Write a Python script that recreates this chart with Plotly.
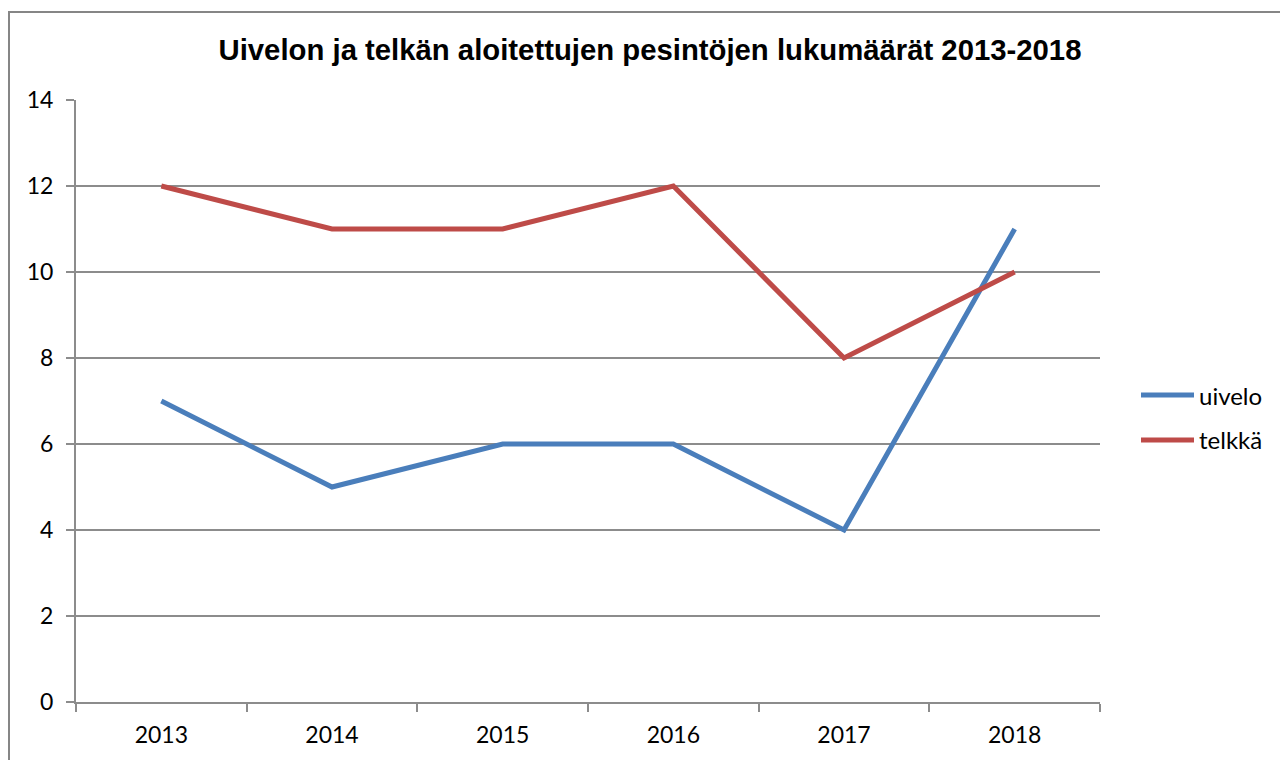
import plotly.graph_objects as go

years = ["2013", "2014", "2015", "2016", "2017", "2018"]
uivelo = [7, 5, 6, 6, 4, 11]
telkka = [12, 11, 11, 12, 8, 10]
series_names = ["uivelo", "telkkä"]
title_text = "Uivelon ja telkän aloitettujen pesintöjen lukumäärät 2013-2018"

BLUE = "#4A7EBB"
RED = "#BE4B48"
GRID = "#8C8C8C"
TXT = "Lato"

# page has an 8px body margin; work in screen pixels and convert
OFF = 8
W, H = 1280, 752
L, R, T, B = 76 - OFF, 1100 - OFF, 100 - OFF, 702 - OFF
pw, ph = R - L, B - T


def px_x(x):
    return (x - OFF - L) / pw


def px_y(y):
    return (B - (y - OFF)) / ph


fig = go.Figure()
colors = [BLUE, RED]
for name, vals, col in zip(series_names, [uivelo, telkka], colors):
    fig.add_trace(go.Scatter(x=years, y=vals, mode="lines", name=name,
                             line=dict(color=col, width=5), showlegend=False))

# outer chart border (extends past the right/bottom edges)
fig.add_shape(type="rect", xref="paper", yref="paper",
              x0=px_x(9), x1=px_x(1320), y0=px_y(12), y1=px_y(800),
              line=dict(color="#868686", width=2), fillcolor="rgba(0,0,0,0)",
              layer="below")

# legend drawn as line samples + labels
legend_y = [395, 440]
for name, col, ly in zip(series_names, colors, legend_y):
    fig.add_shape(type="line", xref="paper", yref="paper",
                  x0=px_x(1141), x1=px_x(1194), y0=px_y(ly), y1=px_y(ly),
                  line=dict(color=col, width=5))
    fig.add_annotation(xref="paper", yref="paper", x=px_x(1197), y=px_y(ly),
                       xanchor="left", yanchor="middle", showarrow=False,
                       text=name, font=dict(family=TXT, size=24, color="black"))

fig.update_layout(
    width=W, height=H,
    margin=dict(l=L, r=W - R, t=T, b=H - B, autoexpand=False),
    paper_bgcolor="white", plot_bgcolor="white",
    title=dict(text="<b>" + title_text + "</b>", x=(650 - OFF) / W, xanchor="center",
               y=1 - (50 - OFF) / H, yanchor="middle",
               font=dict(family="Liberation Sans, Arial", size=29.3, color="black")),
    showlegend=False,
    xaxis=dict(type="category", showgrid=False, showline=True, linecolor=GRID,
               linewidth=2, ticks="outside", tickson="boundaries", ticklen=8,
               tickcolor=GRID, tickwidth=2, range=[-0.5, 5.5],
               tickfont=dict(family=TXT, size=23, color="black"),
               ticklabelstandoff=11, zeroline=False),
    yaxis=dict(range=[0, 14], dtick=2, showgrid=True, gridcolor=GRID, gridwidth=2,
               showline=True, linecolor=GRID, linewidth=2, ticks="outside",
               ticklen=8, tickcolor=GRID, tickwidth=2, zeroline=False,
               tickfont=dict(family=TXT, size=23, color="black"),
               ticklabelstandoff=8),
)

fig.write_html("out.html")
